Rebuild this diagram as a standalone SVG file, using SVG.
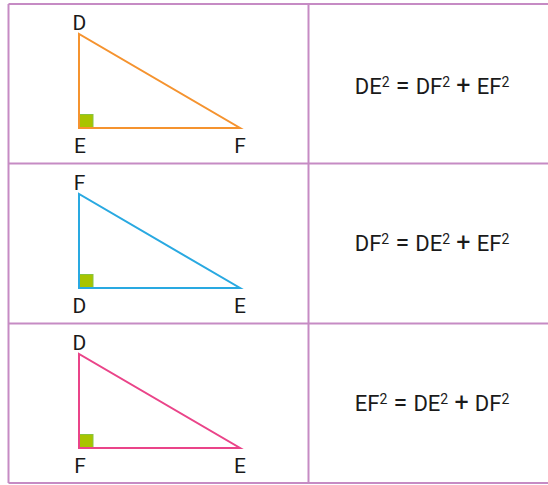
<svg xmlns="http://www.w3.org/2000/svg" width="548" height="485" viewBox="0 0 548 485">
<style>
.grid{stroke:#c68bc4;stroke-width:2;fill:none}
.tri{fill:none;stroke-width:2;stroke-linejoin:miter}
.sq{fill:#a8c400;stroke:#86c440;stroke-width:1}
.lbl{font-family:Roboto,"Liberation Sans",sans-serif;font-size:21px;fill:#1a1a1a;text-anchor:middle}
.eq{font-family:Roboto,"Liberation Sans",sans-serif;font-size:22px;fill:#1a1a1a;text-anchor:middle}
.sup{font-size:14px}
.op{font-size:25px}
</style>
<rect width="548" height="485" fill="#fff"/>
<g id="table">
<line class="grid" x1="8.5" y1="4" x2="548" y2="4"/>
<line class="grid" x1="8.5" y1="163.5" x2="548" y2="163.5"/>
<line class="grid" x1="8.5" y1="323.5" x2="548" y2="323.5"/>
<line class="grid" x1="8.5" y1="483" x2="548" y2="483"/>
<line class="grid" x1="8.5" y1="4" x2="8.5" y2="483"/>
<line class="grid" x1="308.5" y1="4" x2="308.5" y2="483"/>
</g>
<g id="tri1">
<rect class="sq" x="79" y="114.5" width="14" height="13.5"/>
<polygon class="tri" stroke="#f5932f" points="79,34 79,128 240,128"/>
<text class="lbl" x="79.5" y="29.5">D</text>
<text class="lbl" x="80" y="152.5">E</text>
<text class="lbl" x="240" y="152.5">F</text>
</g>
<g id="eq1">
<text class="eq" x="432" y="94">DE<tspan class="sup" dy="-7.5">2</tspan><tspan class="op" dy="7.5"> = </tspan><tspan>DF</tspan><tspan class="sup" dy="-7.5">2</tspan><tspan class="op" dy="7.5"> + </tspan><tspan>EF</tspan><tspan class="sup" dy="-7.5">2</tspan></text>
</g>
<g id="tri2">
<rect class="sq" x="79" y="274.5" width="14" height="13.5"/>
<polygon class="tri" stroke="#29a9e1" points="79,194 79,288 240,288"/>
<text class="lbl" x="79.5" y="189.5">F</text>
<text class="lbl" x="79.5" y="312.5">D</text>
<text class="lbl" x="240" y="312.5">E</text>
</g>
<g id="eq2">
<text class="eq" x="432" y="251">DF<tspan class="sup" dy="-7.5">2</tspan><tspan class="op" dy="7.5"> = </tspan><tspan>DE</tspan><tspan class="sup" dy="-7.5">2</tspan><tspan class="op" dy="7.5"> + </tspan><tspan>EF</tspan><tspan class="sup" dy="-7.5">2</tspan></text>
</g>
<g id="tri3">
<rect class="sq" x="79" y="434.5" width="14" height="13.5"/>
<polygon class="tri" stroke="#ea4489" points="79,354 79,448 240,448"/>
<text class="lbl" x="79.5" y="349.5">D</text>
<text class="lbl" x="80" y="472.5">F</text>
<text class="lbl" x="240" y="472.5">E</text>
</g>
<g id="eq3">
<text class="eq" x="432" y="411">EF<tspan class="sup" dy="-7.5">2</tspan><tspan class="op" dy="7.5"> = </tspan><tspan>DE</tspan><tspan class="sup" dy="-7.5">2</tspan><tspan class="op" dy="7.5"> + </tspan><tspan>DF</tspan><tspan class="sup" dy="-7.5">2</tspan></text>
</g>
</svg>
